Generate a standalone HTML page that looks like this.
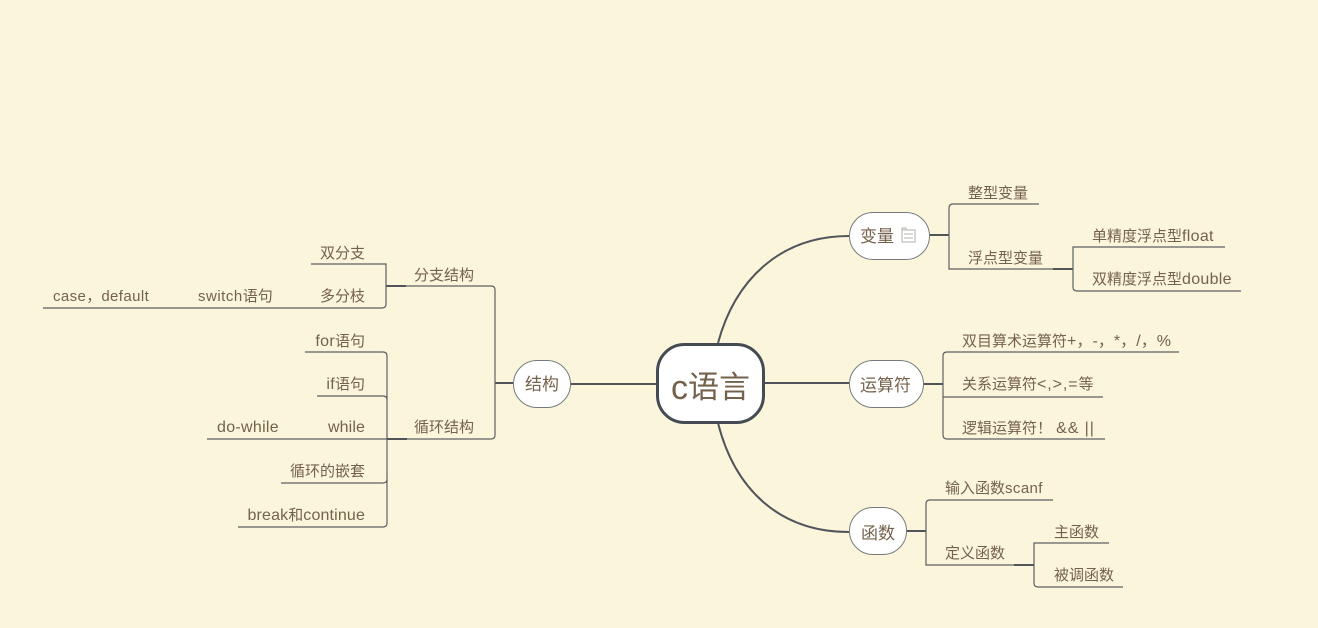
<!DOCTYPE html>
<html><head><meta charset="utf-8">
<style>
html,body{margin:0;padding:0;background:#fbf5dc;width:1318px;height:628px;overflow:hidden}
svg{display:block}
text{font-family:"Liberation Sans","Noto Sans CJK SC",sans-serif;fill:#75624c;font-size:15px}
.n{font-size:17px}
.a{font-size:16px;letter-spacing:.3px}
.s{font-size:15px;letter-spacing:.4px}
.l{fill:none;stroke:#5c6062;stroke-width:1.2}
.t{fill:none;stroke:#50555a;stroke-width:2}
.b{fill:#fff;stroke:#777b7c;stroke-width:1}
</style></head><body>
<svg width="1318" height="628" viewBox="0 0 1318 628" xmlns="http://www.w3.org/2000/svg">
<rect width="1318" height="628" fill="#fbf5dc"/>
<path class="t" d="M718 343C735 280 780 236 849 236M718 423C735 490 780 532 849 532M763 383H849M570 384H657"/>
<path class="t" d="M929 235H949M923 384H943M906 531H926M513 383H495M1053 269H1073M1014 565H1034M386 286H406M387 439H407"/>
<path class="l" d="M1039 204H953Q949 204 949 208V269H1053"/>
<path class="l" d="M1225 247H1073V287Q1073 291 1077 291H1241"/>
<path class="l" d="M1179 352H947Q943 352 943 356V435Q943 439 947 439H1105M943 397H1103"/>
<path class="l" d="M1053 500H930Q926 500 926 504V565H1014"/>
<path class="l" d="M1109 543H1034V583Q1034 587 1038 587H1123"/>
<path class="l" d="M406 286H491Q495 286 495 290V435Q495 439 491 439H407"/>
<path class="l" d="M311 264H386V304Q386 308 382 308H43"/>
<path class="l" d="M305 352H383Q387 352 387 356V523Q387 527 383 527H238M317 396H383Q387 396 387 400M207 439H387M281 483H383Q387 483 387 479"/>
<rect x="657.5" y="344.5" width="106" height="78" rx="27" fill="#fff" stroke="#454b52" stroke-width="3"/>
<rect class="b" x="849.5" y="212.5" width="80" height="47" rx="23.5"/>
<rect class="b" x="849.5" y="360.5" width="74" height="47" rx="23.5"/>
<rect class="b" x="849.5" y="507.5" width="57" height="47" rx="23.5"/>
<rect class="b" x="513.5" y="360.5" width="57" height="47" rx="23.5"/>
<path d="M902 230H915V242H902ZM902 230V228H906V230M904 234H913M904 238H913" fill="none" stroke="#b5b2a8" stroke-width="1"/>
<text x="671" y="399" style="font-size:34px">c</text>
<text x="688" y="398" style="font-size:31px">语言</text>
<text class="n" x="860" y="242">变量</text>
<text class="n" x="860" y="391">运算符</text>
<text class="n" x="861" y="539">函数</text>
<text class="n" x="525" y="390">结构</text>
<text x="968" y="198">整型变量</text>
<text x="968" y="263">浮点型变量</text>
<text x="1092" y="241">单精度浮点型<tspan class="a">float</tspan></text>
<text x="1092" y="284">双精度浮点型<tspan class="a">double</tspan></text>
<text x="962" y="346">双目算术运算符<tspan class="a" style="letter-spacing:.05px">+，-，*，/，%</tspan></text>
<text x="962" y="389">关系运算符<tspan class="a" style="letter-spacing:.9px">&lt;,&gt;,=</tspan>等</text>
<text x="962" y="433">逻辑运算符！ <tspan class="a" style="letter-spacing:.9px">&amp;&amp; ||</tspan></text>
<text x="945" y="493">输入函数<tspan class="s">scanf</tspan></text>
<text x="945" y="558">定义函数</text>
<text x="1054" y="537">主函数</text>
<text x="1054" y="580">被调函数</text>
<text x="414" y="280">分支结构</text>
<text x="414" y="432">循环结构</text>
<text x="320" y="258">双分支</text>
<text x="320" y="301">多分枝</text>
<text x="198" y="301"><tspan class="s" style="letter-spacing:.5px">switch</tspan>语句</text>
<text x="53" y="301"><tspan class="s">case</tspan>，<tspan class="s">default</tspan></text>
<text x="365" y="346" text-anchor="end"><tspan class="a">for</tspan>语句</text>
<text x="365" y="389" text-anchor="end"><tspan class="a">if</tspan>语句</text>
<text x="365" y="432" text-anchor="end" class="a" style="letter-spacing:.1px">while</text>
<text x="217" y="432" class="a">do-while</text>
<text x="365" y="476" text-anchor="end">循环的嵌套</text>
<text x="365" y="520" text-anchor="end"><tspan class="a" style="letter-spacing:.15px">break</tspan>和<tspan class="a" style="letter-spacing:.15px">continue</tspan></text>
</svg>
</body></html>
